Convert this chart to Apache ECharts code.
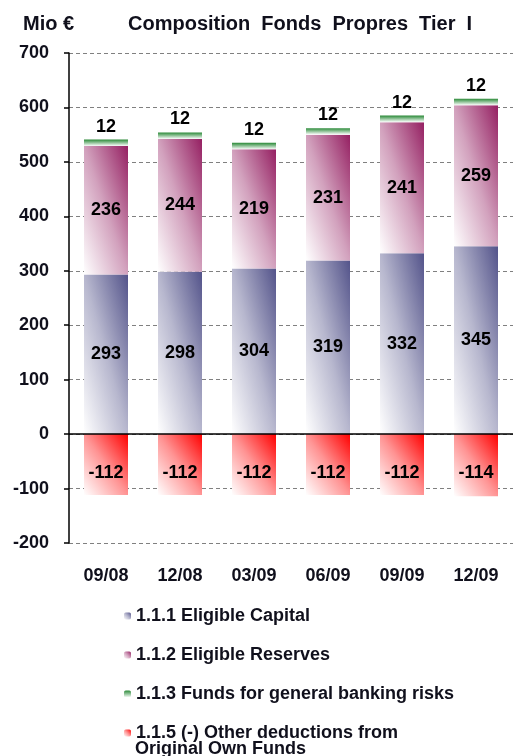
<!DOCTYPE html>
<html>
<head>
<meta charset="utf-8">
<style>
  html, body { margin: 0; padding: 0; background: #fff; }
  #chart { width: 515px; height: 756px; }
</style>
<script src="https://cdn.jsdelivr.net/npm/echarts@6/dist/echarts.min.js"></script>
</head>
<body>
<div id="chart"></div>
<script>
// Tier I own funds composition, quarterly (Mio €)
const categories = ['09/08', '12/08', '03/09', '06/09', '09/09', '12/09'];
const eligibleCapital = [293, 298, 304, 319, 332, 345];
const eligibleReserves = [236, 244, 219, 231, 241, 259];
const bankingRisks = [12, 12, 12, 12, 12, 12];
const otherDeductions = [-112, -112, -112, -112, -112, -114];
const yTicks = { min: -200, max: 700, interval: 100 };

const FONT = '"Liberation Sans", Arial, sans-serif';
const TXT = '#10101c';

// plot geometry, used only to shape the bar gradients
const GRID = { left: 69, right: 2, top: 53, bottom: 213 };
const PLOT_H = 756 - GRID.top - GRID.bottom;
const BAR_W = 44;
const pxPerUnit = PLOT_H / (yTicks.max - yTicks.min);

// Diagonal fill running from white (bottom-left corner) to full colour
// (top-right corner), with iso-lines parallel to the bar's other diagonal.
function diagFill(dark, h) {
  const w = BAR_W;
  const s = h * h + w * w;
  const a = (h * h) / s, b = (w * w) / s;
  return new echarts.graphic.LinearGradient(0.5 - a, 0.5 + b, 0.5 + a, 0.5 - b, [
    { offset: 0, color: '#ffffff' },
    { offset: 0.5, color: echarts.color.lerp(0.42, ['#ffffff', dark]) },
    { offset: 1, color: dark }
  ]);
}
const vertFill = (c) => new echarts.graphic.LinearGradient(0, 0, 0, 1, [
  { offset: 0, color: c }, { offset: 0.45, color: echarts.color.lerp(0.45, [c, '#ffffff']) },
  { offset: 1, color: '#ffffff' }
]);
const withFill = (values, dark) => values.map((v) => ({
  value: v,
  itemStyle: { color: diagFill(dark, Math.abs(v) * pxPerUnit) }
}));

const C_CAP = '#53538a', C_RES = '#952062', C_GRN = '#2b8a38', C_DED = '#ff0000';

const labelStyle = {
  show: true,
  position: 'inside',
  color: '#000',
  fontFamily: FONT,
  fontWeight: 'bold',
  fontSize: 18
};

const chart = echarts.init(document.getElementById('chart'), null, { renderer: 'canvas' });
chart.setOption({
  animation: false,
  backgroundColor: '#ffffff',
  title: [
    { text: 'Mio €', left: 18, top: 9,
      textStyle: { fontFamily: FONT, fontWeight: 'bold', fontSize: 20, color: TXT } },
    { text: 'Composition  Fonds  Propres  Tier  I', left: 123, top: 9,
      textStyle: { fontFamily: FONT, fontWeight: 'bold', fontSize: 20, color: TXT } }
  ],
  grid: GRID,
  xAxis: {
    type: 'category',
    data: categories,
    axisLine: { show: false, onZero: false },
    axisTick: { show: false },
    axisLabel: { margin: 24, fontFamily: FONT, fontWeight: 'bold', fontSize: 18, color: TXT }
  },
  yAxis: {
    type: 'value',
    min: yTicks.min, max: yTicks.max, interval: yTicks.interval,
    axisLine: { show: true, lineStyle: { color: '#000', width: 1.5 } },
    axisTick: { show: true, length: 5, lineStyle: { color: '#000', width: 1.5 } },
    axisLabel: { margin: 20, fontFamily: FONT, fontWeight: 'bold', fontSize: 18, color: TXT },
    splitLine: { show: true, lineStyle: { color: '#808080', type: [4, 3], width: 1 } }
  },
  legend: [{
    orient: 'vertical',
    left: 119, top: 602,
    itemWidth: 7, itemHeight: 7,
    itemGap: 21,
    data: ['1.1.1 Eligible Capital', '1.1.2 Eligible Reserves',
           '1.1.3 Funds for general banking risks',
           '1.1.5 (-) Other deductions from Original Own Funds'],
    formatter: (n) => n.replace(' Original Own Funds', ''),
    textStyle: { fontFamily: FONT, fontWeight: 'bold', fontSize: 18, color: TXT }
  }],
  graphic: [{
    type: 'text', left: 135, top: 740,
    style: { text: 'Original Own Funds', font: 'bold 18px ' + FONT, fill: TXT }
  }],
  series: [
    {
      name: '1.1.1 Eligible Capital', type: 'bar', stack: 'tier1',
      data: withFill(eligibleCapital, C_CAP), barWidth: BAR_W,
      itemStyle: { color: diagFill(C_CAP, BAR_W) },
      label: labelStyle
    },
    {
      name: '1.1.2 Eligible Reserves', type: 'bar', stack: 'tier1',
      data: withFill(eligibleReserves, C_RES),
      itemStyle: { color: diagFill(C_RES, BAR_W) },
      label: labelStyle
    },
    {
      name: '1.1.3 Funds for general banking risks', type: 'bar', stack: 'tier1',
      data: bankingRisks,
      itemStyle: { color: vertFill(C_GRN) },
      label: Object.assign({}, labelStyle, { position: 'top', distance: 4 })
    },
    {
      name: '1.1.5 (-) Other deductions from Original Own Funds', type: 'bar', stack: 'tier1',
      data: withFill(otherDeductions, C_DED),
      itemStyle: { color: diagFill(C_DED, BAR_W) },
      label: Object.assign({}, labelStyle, { offset: [0, 8] }),
      markLine: {
        silent: true, symbol: 'none', label: { show: false },
        lineStyle: { color: '#000', type: 'solid', width: 1.5 },
        data: [{ yAxis: 0 }]
      }
    }
  ]
});
</script>
</body>
</html>
